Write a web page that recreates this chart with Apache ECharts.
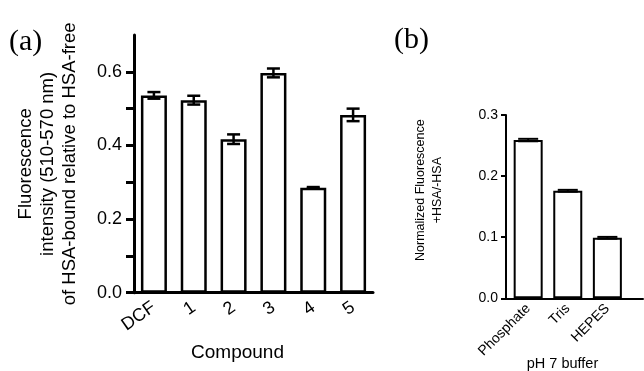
<!DOCTYPE html>
<html>
<head>
<meta charset="utf-8">
<script src="https://cdn.jsdelivr.net/npm/echarts@6/dist/echarts.min.js"></script>
<style>
  html, body { margin: 0; padding: 0; background: #fff; }
  #chart { width: 644px; height: 371px; }
</style>
</head>
<body>
<div id="chart"></div>
<script>
// panel (a): compounds
var compounds = ['DCF', '1', '2', '3', '4', '5'];
var compoundValues = [0.536, 0.523, 0.417, 0.597, 0.285, 0.483];
var compoundErrors = [0.009, 0.012, 0.013, 0.012, 0.002, 0.017];
var ticksA = [0, 0.1, 0.2, 0.3, 0.4, 0.5, 0.6];

// panel (b): buffers
var buffers = ['Phosphate', 'Tris', 'HEPES'];
var bufferValues = [0.259, 0.176, 0.099];
var bufferErrors = [0.002, 0.0015, 0.0015];
var ticksB = [0, 0.1, 0.2, 0.3];

var FONT = 'Liberation Sans, Arial, sans-serif';

var errorBars = function (capW, lw) {
    return function (params, api) {
        var x = api.value(0), v = api.value(1), e = api.value(2);
        var hi = api.coord([x, v + e]);
        var lo = api.coord([x, v - e]);
        var st = { stroke: '#000', lineWidth: lw };
        return {
            type: 'group',
            children: [
                { type: 'line', shape: { x1: hi[0], y1: hi[1], x2: lo[0], y2: lo[1] }, style: st },
                { type: 'line', shape: { x1: hi[0] - capW / 2, y1: hi[1], x2: hi[0] + capW / 2, y2: hi[1] }, style: st },
                { type: 'line', shape: { x1: lo[0] - capW / 2, y1: lo[1], x2: lo[0] + capW / 2, y2: lo[1] }, style: st }
            ]
        };
    };
};

var myChart = echarts.init(document.getElementById('chart'), null, { renderer: 'canvas' });

var option = {
    backgroundColor: '#fff',
    animation: false,
    title: [
        { text: '(a)', left: 9, top: 27, padding: 0,
          textStyle: { fontFamily: 'Liberation Serif', fontSize: 30, fontWeight: 'normal', color: '#000' } },
        { text: '(b)', left: 394, top: 25, padding: 0,
          textStyle: { fontFamily: 'Liberation Serif', fontSize: 30, fontWeight: 'normal', color: '#000' } }
    ],
    grid: [
        { left: 134, top: 35, width: 239, height: 257.7, outerBoundsMode: 'none' },
        { left: 506, top: 115, width: 137, height: 183.3, outerBoundsMode: 'none' }
    ],
    xAxis: [
        {
            gridIndex: 0,
            type: 'category',
            data: compounds,
            axisLine: { lineStyle: { color: '#000', width: 3 } },
            axisTick: { show: false },
            axisLabel: { interval: 0, rotate: 35, fontSize: 18, fontFamily: FONT, color: '#000', margin: 13 },
            name: 'Compound',
            nameLocation: 'middle',
            nameGap: 51,
            nameMoveOverlap: false,
            nameTextStyle: { fontSize: 19, fontFamily: FONT, color: '#000', padding: [0, 32, 0, 0] }
        },
        {
            // buffers are placed by index; the axis runs on past the cropped right edge
            gridIndex: 1,
            type: 'value',
            min: -0.56,
            max: 2.9,
            splitLine: { show: false },
            axisLine: { onZero: false, lineStyle: { color: '#000', width: 2 } },
            axisTick: { show: false },
            axisLabel: {
                customValues: [0, 1, 2],
                rotate: 45, fontSize: 14, fontFamily: FONT, color: '#000', margin: 8,
                formatter: function (v) { return buffers[Math.round(v)] || ''; }
            },
            name: 'pH 7 buffer',
            nameLocation: 'middle',
            nameGap: 58,
            nameMoveOverlap: false,
            nameTextStyle: { fontSize: 14.5, fontFamily: FONT, color: '#000', padding: [0, 24, 0, 0] }
        }
    ],
    yAxis: [
        {
            gridIndex: 0,
            type: 'value',
            min: 0,
            max: 0.7,
            interval: 0.1,
            splitLine: { show: false },
            axisLine: { show: true, lineStyle: { color: '#000', width: 3 } },
            axisTick: { show: true, length: 8, customValues: ticksA, lineStyle: { color: '#000', width: 3 } },
            axisLabel: {
                fontSize: 18, fontFamily: FONT, color: '#000', margin: 12,
                formatter: function (v) {
                    var k = Math.round(v * 10);
                    return (k % 2 === 0 && k <= 6) ? v.toFixed(1) : '';
                }
            },
            name: 'Fluorescence\nintensity (510-570 nm)\nof HSA-bound relative to HSA-free',
            nameLocation: 'middle',
            nameGap: 53,
            nameMoveOverlap: false,
            nameTextStyle: { fontSize: 18.5, lineHeight: 22, fontFamily: FONT, color: '#000' }
        },
        {
            gridIndex: 1,
            type: 'value',
            min: 0,
            max: 0.3,
            interval: 0.1,
            splitLine: { show: false },
            axisLine: { show: true, onZero: false, lineStyle: { color: '#000', width: 2 } },
            axisTick: { show: true, length: 5, customValues: ticksB, lineStyle: { color: '#000', width: 2 } },
            axisLabel: {
                fontSize: 14, fontFamily: FONT, color: '#000', margin: 8,
                formatter: function (v) { return v.toFixed(1); }
            },
            name: 'Normalized Fluorescence\n+HSA/-HSA',
            nameLocation: 'middle',
            nameGap: 60,
            nameMoveOverlap: false,
            nameTextStyle: { fontSize: 12.5, lineHeight: 17, fontFamily: FONT, color: '#000', padding: [0, 0, 0, 33] }
        }
    ],
    series: [
        {
            name: 'compounds',
            type: 'bar',
            xAxisIndex: 0,
            yAxisIndex: 0,
            barWidth: 26,
            data: compoundValues,
            itemStyle: { color: '#fff', borderColor: '#000', borderWidth: 2.5 }
        },
        {
            name: 'compounds err',
            type: 'custom',
            xAxisIndex: 0,
            yAxisIndex: 0,
            renderItem: errorBars(13, 2.5),
            data: compounds.map(function (c, i) { return [i, compoundValues[i], compoundErrors[i]]; }),
            z: 5
        },
        {
            name: 'buffers',
            type: 'bar',
            xAxisIndex: 1,
            yAxisIndex: 1,
            barWidth: 29,
            data: buffers.map(function (c, i) { return [i, bufferValues[i]]; }),
            itemStyle: { color: '#fff', borderColor: '#000', borderWidth: 2 }
        },
        {
            name: 'buffers err',
            type: 'custom',
            xAxisIndex: 1,
            yAxisIndex: 1,
            renderItem: errorBars(20, 2),
            data: buffers.map(function (c, i) { return [i, bufferValues[i], bufferErrors[i]]; }),
            z: 5
        }
    ]
};

myChart.setOption(option);
</script>
</body>
</html>
